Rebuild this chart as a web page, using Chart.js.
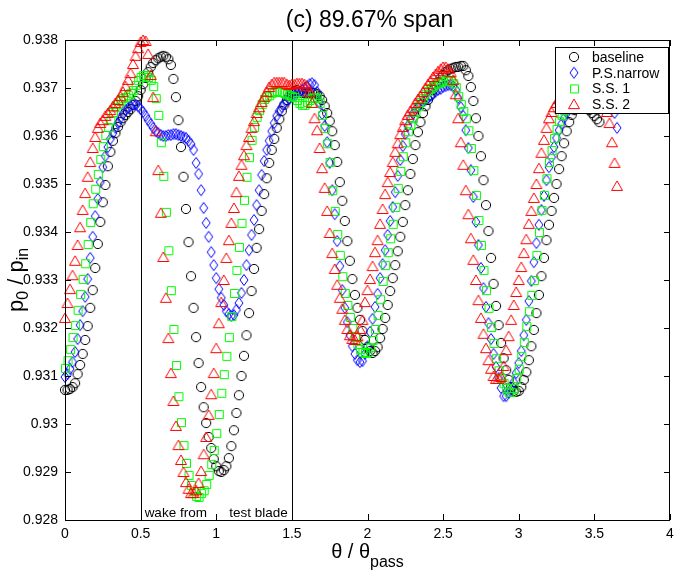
<!DOCTYPE html>
<html>
<head>
<meta charset="utf-8">
<script src="https://cdn.jsdelivr.net/npm/chart.js@4.4.0/dist/chart.umd.min.js"></script>
<style>
  html, body { margin: 0; padding: 0; background: #fff; }
  #wrap { width: 676px; height: 570px; }
</style>
</head>
<body>
<div id="wrap"><canvas id="spanChart" width="676" height="570"></canvas></div>
<script>
// samples are equally spaced in theta / theta_pass
var thetaStep = 1 / 60;

var baseline = [
  0.93071, 0.93071, 0.93073, 0.93077, 0.93085, 0.93104, 0.93123, 0.93146, 0.93175, 0.93204,
  0.93242, 0.93279, 0.93325, 0.93375, 0.93421, 0.93462, 0.93498, 0.93537, 0.93567, 0.93590,
  0.93606, 0.93619, 0.93629, 0.93637, 0.93644, 0.93650, 0.93656, 0.93665, 0.93673, 0.93683,
  0.93696, 0.93708, 0.93721, 0.93733, 0.93744, 0.93752, 0.93758, 0.93762, 0.93765, 0.93767,
  0.93765, 0.93760, 0.93748, 0.93719, 0.93681, 0.93633, 0.93577, 0.93515, 0.93448, 0.93379,
  0.93308, 0.93242, 0.93181, 0.93127, 0.93077, 0.93035, 0.93002, 0.92973, 0.92950, 0.92927,
  0.92912, 0.92902, 0.92900, 0.92904, 0.92912, 0.92929, 0.92954, 0.92987, 0.93023, 0.93060,
  0.93100, 0.93142, 0.93185, 0.93231, 0.93277, 0.93323, 0.93367, 0.93406, 0.93444, 0.93479,
  0.93512, 0.93544, 0.93571, 0.93594, 0.93617, 0.93635, 0.93652, 0.93665, 0.93675, 0.93683,
  0.93690, 0.93694, 0.93696, 0.93692, 0.93690, 0.93690, 0.93690, 0.93690, 0.93690, 0.93690,
  0.93687, 0.93683, 0.93675, 0.93662, 0.93648, 0.93631, 0.93610, 0.93581, 0.93546, 0.93504,
  0.93465, 0.93423, 0.93381, 0.93340, 0.93302, 0.93269, 0.93242, 0.93217, 0.93194, 0.93175,
  0.93160, 0.93152, 0.93148, 0.93152, 0.93160, 0.93179, 0.93198, 0.93221, 0.93248, 0.93277,
  0.93304, 0.93331, 0.93360, 0.93390, 0.93421, 0.93456, 0.93487, 0.93521, 0.93552, 0.93581,
  0.93608, 0.93629, 0.93648, 0.93662, 0.93675, 0.93685, 0.93696, 0.93704, 0.93712, 0.93721,
  0.93727, 0.93733, 0.93737, 0.93740, 0.93742, 0.93744, 0.93744, 0.93746, 0.93746, 0.93737,
  0.93725, 0.93702, 0.93673, 0.93637, 0.93600, 0.93558, 0.93508, 0.93456, 0.93402, 0.93346,
  0.93292, 0.93246, 0.93206, 0.93169, 0.93137, 0.93112, 0.93092, 0.93077, 0.93069, 0.93067,
  0.93069, 0.93077, 0.93092, 0.93108, 0.93133, 0.93162, 0.93196, 0.93231, 0.93269, 0.93308,
  0.93346, 0.93383, 0.93415, 0.93444, 0.93471, 0.93500, 0.93531, 0.93558, 0.93585, 0.93610,
  0.93629, 0.93644, 0.93654, 0.93660, 0.93665, 0.93667, 0.93665, 0.93660, 0.93654, 0.93648,
  0.93642, 0.93635, 0.93629
];

var psNarrow = [
  0.93098, 0.93104, 0.93115, 0.93129, 0.93150, 0.93177, 0.93206, 0.93235, 0.93265, 0.93302,
  0.93346, 0.93390, 0.93433, 0.93469, 0.93504, 0.93535, 0.93558, 0.93577, 0.93594, 0.93606,
  0.93617, 0.93627, 0.93637, 0.93646, 0.93654, 0.93658, 0.93662, 0.93665, 0.93665, 0.93662,
  0.93656, 0.93650, 0.93642, 0.93633, 0.93625, 0.93617, 0.93610, 0.93606, 0.93602, 0.93600,
  0.93600, 0.93602, 0.93602, 0.93604, 0.93604, 0.93602, 0.93600, 0.93598, 0.93596, 0.93590,
  0.93583, 0.93571, 0.93544, 0.93521, 0.93487, 0.93450, 0.93419, 0.93390, 0.93358, 0.93331,
  0.93304, 0.93281, 0.93263, 0.93248, 0.93235, 0.93229, 0.93225, 0.93227, 0.93238, 0.93252,
  0.93273, 0.93300, 0.93331, 0.93362, 0.93394, 0.93425, 0.93456, 0.93487, 0.93519, 0.93548,
  0.93571, 0.93590, 0.93610, 0.93627, 0.93642, 0.93652, 0.93660, 0.93667, 0.93673, 0.93677,
  0.93683, 0.93685, 0.93690, 0.93692, 0.93696, 0.93700, 0.93704, 0.93708, 0.93710, 0.93706,
  0.93692, 0.93669, 0.93646, 0.93621, 0.93587, 0.93544, 0.93487, 0.93437, 0.93381, 0.93329,
  0.93279, 0.93242, 0.93212, 0.93185, 0.93162, 0.93146, 0.93133, 0.93129, 0.93131, 0.93146,
  0.93162, 0.93192, 0.93219, 0.93244, 0.93271, 0.93304, 0.93333, 0.93362, 0.93394, 0.93423,
  0.93452, 0.93483, 0.93517, 0.93550, 0.93579, 0.93604, 0.93621, 0.93635, 0.93646, 0.93654,
  0.93660, 0.93667, 0.93671, 0.93675, 0.93679, 0.93683, 0.93688, 0.93692, 0.93696, 0.93698,
  0.93702, 0.93704, 0.93706, 0.93706, 0.93704, 0.93696, 0.93679, 0.93660, 0.93642, 0.93612,
  0.93575, 0.93529, 0.93473, 0.93421, 0.93373, 0.93325, 0.93283, 0.93244, 0.93210, 0.93177,
  0.93146, 0.93119, 0.93096, 0.93075, 0.93058, 0.93058, 0.93065, 0.93073, 0.93087, 0.93106,
  0.93127, 0.93152, 0.93185, 0.93217, 0.93256, 0.93298, 0.93337, 0.93377, 0.93415, 0.93446,
  0.93475, 0.93508, 0.93535, 0.93556, 0.93577, 0.93596, 0.93612, 0.93625, 0.93637, 0.93648,
  0.93656, 0.93665, 0.93673, 0.93679, 0.93685, 0.93690, 0.93694, 0.93698, 0.93700, 0.93702,
  0.93704, 0.93704, 0.93702, 0.93698, 0.93692, 0.93683, 0.93673, 0.93660, 0.93648, 0.93617
];

var ss1 = [
  0.93117, 0.93133, 0.93156, 0.93181, 0.93206, 0.93238, 0.93271, 0.93302, 0.93335, 0.93375,
  0.93421, 0.93460, 0.93490, 0.93521, 0.93552, 0.93579, 0.93602, 0.93619, 0.93633, 0.93650,
  0.93660, 0.93667, 0.93673, 0.93679, 0.93681, 0.93685, 0.93690, 0.93696, 0.93706, 0.93717,
  0.93723, 0.93727, 0.93727, 0.93723, 0.93717, 0.93704, 0.93679, 0.93644, 0.93587, 0.93517,
  0.93442, 0.93362, 0.93279, 0.93198, 0.93123, 0.93058, 0.93004, 0.92956, 0.92919, 0.92894,
  0.92873, 0.92860, 0.92850, 0.92848, 0.92856, 0.92862, 0.92875, 0.92894, 0.92917, 0.92946,
  0.92981, 0.93021, 0.93065, 0.93104, 0.93142, 0.93181, 0.93225, 0.93273, 0.93321, 0.93369,
  0.93419, 0.93467, 0.93515, 0.93556, 0.93592, 0.93619, 0.93640, 0.93654, 0.93667, 0.93677,
  0.93683, 0.93685, 0.93690, 0.93692, 0.93694, 0.93692, 0.93692, 0.93690, 0.93687, 0.93685,
  0.93683, 0.93681, 0.93675, 0.93669, 0.93665, 0.93665, 0.93671, 0.93675, 0.93679, 0.93681,
  0.93679, 0.93669, 0.93644, 0.93617, 0.93585, 0.93546, 0.93487, 0.93444, 0.93396, 0.93352,
  0.93308, 0.93273, 0.93248, 0.93223, 0.93200, 0.93181, 0.93167, 0.93156, 0.93150, 0.93148,
  0.93150, 0.93160, 0.93175, 0.93198, 0.93227, 0.93260, 0.93298, 0.93331, 0.93358, 0.93387,
  0.93417, 0.93452, 0.93492, 0.93527, 0.93558, 0.93587, 0.93610, 0.93623, 0.93637, 0.93650,
  0.93662, 0.93671, 0.93679, 0.93687, 0.93694, 0.93700, 0.93704, 0.93708, 0.93710, 0.93712,
  0.93715, 0.93717, 0.93717, 0.93715, 0.93710, 0.93702, 0.93683, 0.93667, 0.93652, 0.93637,
  0.93612, 0.93575, 0.93529, 0.93477, 0.93425, 0.93373, 0.93321, 0.93279, 0.93242, 0.93202,
  0.93169, 0.93137, 0.93112, 0.93096, 0.93085, 0.93075, 0.93067, 0.93067, 0.93075, 0.93096,
  0.93115, 0.93142, 0.93171, 0.93204, 0.93235, 0.93269, 0.93300, 0.93352, 0.93400, 0.93446,
  0.93477, 0.93512, 0.93546, 0.93571, 0.93596, 0.93615, 0.93631, 0.93644, 0.93654, 0.93665,
  0.93673, 0.93679, 0.93685, 0.93690, 0.93694, 0.93698, 0.93700, 0.93702, 0.93704, 0.93704,
  0.93702, 0.93700, 0.93696, 0.93690, 0.93681
];

var ss2 = [
  0.93221, 0.93252, 0.93281, 0.93310, 0.93340, 0.93373, 0.93410, 0.93446, 0.93481, 0.93515,
  0.93546, 0.93575, 0.93598, 0.93617, 0.93627, 0.93633, 0.93642, 0.93648, 0.93654, 0.93662,
  0.93669, 0.93675, 0.93683, 0.93692, 0.93704, 0.93717, 0.93731, 0.93750, 0.93767, 0.93783,
  0.93796, 0.93800, 0.93798, 0.93771, 0.93727, 0.93681, 0.93610, 0.93529, 0.93440, 0.93348,
  0.93263, 0.93179, 0.93106, 0.93048, 0.92996, 0.92956, 0.92925, 0.92900, 0.92879, 0.92865,
  0.92856, 0.92856, 0.92862, 0.92877, 0.92902, 0.92937, 0.92973, 0.93019, 0.93062, 0.93106,
  0.93158, 0.93210, 0.93254, 0.93300, 0.93346, 0.93383, 0.93419, 0.93450, 0.93483, 0.93517,
  0.93540, 0.93560, 0.93581, 0.93598, 0.93617, 0.93631, 0.93648, 0.93660, 0.93671, 0.93681,
  0.93692, 0.93702, 0.93708, 0.93712, 0.93712, 0.93712, 0.93712, 0.93712, 0.93708, 0.93706,
  0.93708, 0.93708, 0.93710, 0.93710, 0.93710, 0.93708, 0.93704, 0.93692, 0.93669, 0.93637,
  0.93612, 0.93575, 0.93533, 0.93492, 0.93444, 0.93398, 0.93356, 0.93323, 0.93290, 0.93263,
  0.93240, 0.93217, 0.93198, 0.93185, 0.93177, 0.93175, 0.93183, 0.93198, 0.93217, 0.93254,
  0.93279, 0.93302, 0.93329, 0.93358, 0.93383, 0.93417, 0.93448, 0.93479, 0.93504, 0.93525,
  0.93546, 0.93567, 0.93585, 0.93604, 0.93619, 0.93633, 0.93644, 0.93652, 0.93658, 0.93669,
  0.93677, 0.93683, 0.93692, 0.93700, 0.93708, 0.93715, 0.93723, 0.93729, 0.93735, 0.93740,
  0.93744, 0.93744, 0.93740, 0.93733, 0.93717, 0.93687, 0.93637, 0.93587, 0.93540, 0.93487,
  0.93437, 0.93387, 0.93342, 0.93300, 0.93258, 0.93221, 0.93188, 0.93158, 0.93133, 0.93115,
  0.93100, 0.93094, 0.93094, 0.93098, 0.93121, 0.93154, 0.93183, 0.93217, 0.93248, 0.93275,
  0.93300, 0.93327, 0.93356, 0.93385, 0.93417, 0.93444, 0.93471, 0.93500, 0.93533, 0.93565,
  0.93592, 0.93617, 0.93637, 0.93650, 0.93660, 0.93669, 0.93677, 0.93683, 0.93690, 0.93696,
  0.93702, 0.93708, 0.93712, 0.93717, 0.93721, 0.93723, 0.93725, 0.93725, 0.93723, 0.93721,
  0.93717, 0.93708, 0.93698, 0.93685, 0.93669, 0.93650, 0.93627, 0.93587, 0.93544, 0.93496
];

var seriesNames = ['baseline', 'P.S.narrow', 'S.S. 1', 'S.S. 2'];
var seriesColors = ['#000000', '#0000ff', '#00ff00', '#ff0000'];
var xTicks = [0, 0.5, 1, 1.5, 2, 2.5, 3, 3.5, 4];
var wakeLines = [0.5, 1.5];

// hollow marker shapes, drawn once on small canvases
function makeMarker(kind, color) {
    var c = document.createElement('canvas');
    c.width = 14; c.height = 14;
    var g = c.getContext('2d');
    var m = 7;
    g.strokeStyle = color;
    g.lineWidth = 1;
    g.beginPath();
    if (kind === 'circle') {
        g.arc(m, m, 4.6, 0, Math.PI * 2);
    } else if (kind === 'diamond') {
        g.moveTo(m, m - 5.5); g.lineTo(m + 4, m); g.lineTo(m, m + 5.5); g.lineTo(m - 4, m);
        g.closePath();
    } else if (kind === 'square') {
        g.rect(m - 3.5, m - 3.5, 8, 8);
    } else {
        g.moveTo(m, m - 5); g.lineTo(m + 5.5, m + 4.5); g.lineTo(m - 5.5, m + 4.5);
        g.closePath();
    }
    g.stroke();
    return c;
}
var markerKinds = ['circle', 'diamond', 'square', 'triangle'];
var markers = markerKinds.map(function (k, i) { return makeMarker(k, seriesColors[i]); });

function toPoints(values) {
    return values.map(function (v, i) { return { x: i * thetaStep, y: v }; });
}

var FONT = '"Liberation Sans", Arial, Helvetica, sans-serif';

var decorPlugin = {
    id: 'decor',
    beforeDatasetsDraw: function (chart) {
        var ctx = chart.ctx, a = chart.chartArea, xs = chart.scales.x;
        ctx.save();
        ctx.strokeStyle = '#000';
        ctx.lineWidth = 1;
        wakeLines.forEach(function (v) {
            var px = Math.round(xs.getPixelForValue(v)) + 0.5;
            ctx.beginPath(); ctx.moveTo(px, a.top); ctx.lineTo(px, a.bottom); ctx.stroke();
        });
        ctx.restore();
    },
    afterDraw: function (chart) {
        var ctx = chart.ctx, a = chart.chartArea, xs = chart.scales.x, ys = chart.scales.y;
        ctx.save();
        ctx.strokeStyle = '#000';
        ctx.fillStyle = '#000';
        ctx.lineWidth = 1;
        // frame
        ctx.strokeRect(a.left + 0.5, a.top + 0.5, a.right - a.left - 1, a.bottom - a.top);
        // inward ticks on all four sides
        ctx.beginPath();
        xTicks.forEach(function (v) {
            var px = Math.round(xs.getPixelForValue(v)) + 0.5;
            ctx.moveTo(px, a.bottom); ctx.lineTo(px, a.bottom - 6);
            ctx.moveTo(px, a.top); ctx.lineTo(px, a.top + 6);
        });
        ys.ticks.forEach(function (t) {
            var py = Math.round(ys.getPixelForValue(t.value)) + 0.5;
            ctx.moveTo(a.left, py); ctx.lineTo(a.left + 6, py);
            ctx.moveTo(a.right, py); ctx.lineTo(a.right - 6, py);
        });
        ctx.stroke();

        // wake labels
        ctx.font = '13.5px ' + FONT;
        ctx.textBaseline = 'alphabetic';
        ctx.textAlign = 'left';
        ctx.fillText('wake from', xs.getPixelForValue(0.5) + 4, a.bottom - 3);
        ctx.textAlign = 'right';
        ctx.fillText('test blade', xs.getPixelForValue(1.5) - 4, a.bottom - 3);

        // title
        ctx.textAlign = 'center';
        ctx.font = '23px ' + FONT;
        ctx.fillText('(c) 89.67% span', (a.left + a.right) / 2 + 2, 27);

        // x axis title with subscript
        ctx.font = '20px ' + FONT;
        var main = '\u03b8 / \u03b8';
        var w1 = ctx.measureText(main).width;
        ctx.font = '16px ' + FONT;
        var w2 = ctx.measureText('pass').width;
        var x0 = (a.left + a.right) / 2 - (w1 + w2) / 2;
        ctx.textAlign = 'left';
        ctx.font = '20px ' + FONT;
        ctx.fillText(main, x0, 558);
        ctx.font = '16px ' + FONT;
        ctx.fillText('pass', x0 + w1, 567);

        // y axis title with subscripts, rotated
        ctx.save();
        ctx.translate(23, (a.top + a.bottom) / 2);
        ctx.rotate(-Math.PI / 2);
        ctx.textAlign = 'left';
        var parts = [['p', 22, 0], ['0', 16, 5], [' / p', 22, 0], ['in', 16, 5]];
        var total = 0;
        parts.forEach(function (p) { ctx.font = p[1] + 'px ' + FONT; total += ctx.measureText(p[0]).width; });
        var cx = -total / 2;
        parts.forEach(function (p) {
            ctx.font = p[1] + 'px ' + FONT;
            ctx.fillText(p[0], cx, p[2]);
            cx += ctx.measureText(p[0]).width;
        });
        ctx.restore();

        // legend box
        var lx = 555, ly = 47, lw = 113, lh = 66;
        ctx.fillStyle = '#fff';
        ctx.fillRect(lx, ly, lw, lh);
        ctx.strokeRect(lx + 0.5, ly + 0.5, lw, lh);
        ctx.fillStyle = '#000';
        ctx.font = '14px ' + FONT;
        ctx.textAlign = 'left';
        ctx.textBaseline = 'middle';
        seriesNames.forEach(function (name, i) {
            var ry = ly + 10 + i * 15.7;
            ctx.drawImage(markers[i], lx + 19 - 7, ry - 7);
            ctx.fillText(name, lx + 37, ry + 1);
        });
        ctx.restore();
    }
};

var ctx = document.getElementById('spanChart').getContext('2d');
var spanChart = new Chart(ctx, {
    type: 'scatter',
    data: {
        datasets: [
            { label: seriesNames[0], data: toPoints(baseline), pointStyle: markers[0], order: 4 },
            { label: seriesNames[1], data: toPoints(psNarrow), pointStyle: markers[1], order: 3 },
            { label: seriesNames[2], data: toPoints(ss1), pointStyle: markers[2], order: 2 },
            { label: seriesNames[3], data: toPoints(ss2), pointStyle: markers[3], order: 1 }
        ]
    },
    options: {
        responsive: false,
        animation: false,
        devicePixelRatio: 1,
        layout: { padding: { top: 40, right: 4, left: 0, bottom: 0 } },
        clip: false,
        plugins: {
            legend: { display: false },
            tooltip: { enabled: false },
            title: { display: false }
        },
        elements: { point: { radius: 5, hoverRadius: 5 } },
        scales: {
            x: {
                type: 'linear',
                min: 0,
                max: 4,
                afterFit: function (s) { s.height = 50; s.paddingLeft = 0; s.paddingRight = 0; },
                grid: { display: false, drawTicks: false },
                border: { display: false },
                ticks: {
                    stepSize: 0.5,
                    autoSkip: false,
                    maxRotation: 0,
                    padding: 6,
                    color: '#000',
                    font: { family: FONT, size: 14 },
                    callback: function (v) { return String(+v.toFixed(2)); }
                }
            },
            y: {
                min: 0.928,
                max: 0.938,
                afterFit: function (s) { s.width = 65; s.paddingTop = 0; s.paddingBottom = 0; },
                grid: { display: false, drawTicks: false },
                border: { display: false },
                ticks: {
                    stepSize: 0.001,
                    padding: 7,
                    color: '#000',
                    font: { family: FONT, size: 14 },
                    callback: function (v) { return String(+v.toFixed(3)); }
                }
            }
        }
    },
    plugins: [decorPlugin]
});
</script>
</body>
</html>
